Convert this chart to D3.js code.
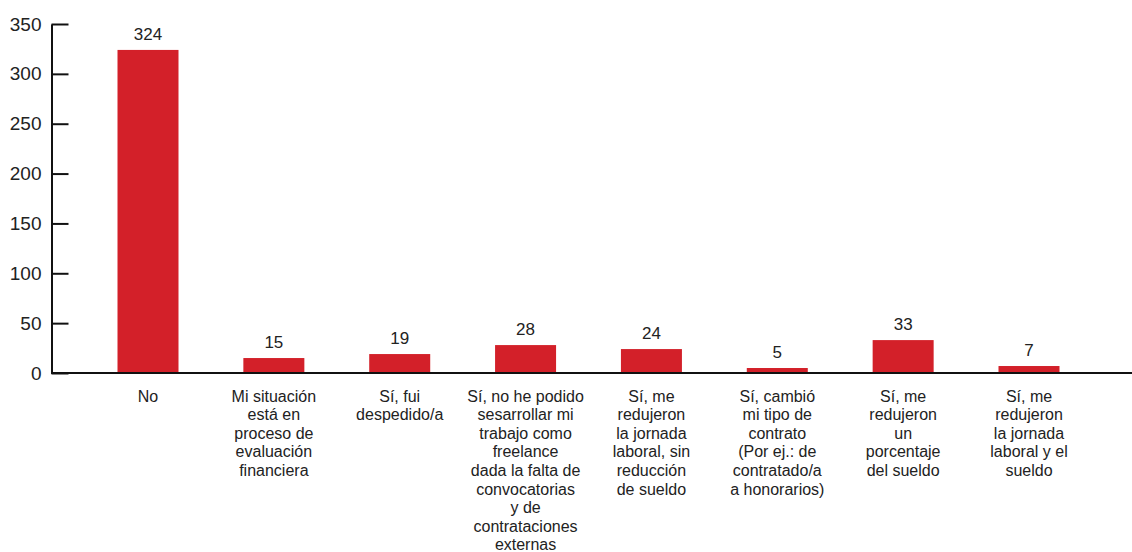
<!DOCTYPE html>
<html>
<head>
  <meta charset="utf8">
  <title>Situación laboral</title>
  <script src="https://d3js.org/d3.v7.min.js"></script>
  <style>
    body { margin: 0; background: #fff; }
    text { font-family: "Liberation Sans", Arial, sans-serif; fill: #222; }
  </style>
</head>
<body>
<script>

  // categories, wrapped as in the original (one string per line)
  var categories = [
    ["No"],
    ["Mi situación", "está en", "proceso de", "evaluación", "financiera"],
    ["Sí, fui", "despedido/a"],
    ["Sí, no he podido", "sesarrollar mi", "trabajo como", "freelance", "dada la falta de", "convocatorias", "y de", "contrataciones", "externas"],
    ["Sí, me", "redujeron", "la jornada", "laboral, sin", "reducción", "de sueldo"],
    ["Sí, cambió", "mi tipo de", "contrato", "(Por ej.: de", "contratado/a", "a honorarios)"],
    ["Sí, me", "redujeron", "un", "porcentaje", "del sueldo"],
    ["Sí, me", "redujeron", "la jornada", "laboral y el", "sueldo"]
  ];
  var values = [324, 15, 19, 28, 24, 5, 33, 7];
  var yTicks = [0, 50, 100, 150, 200, 250, 300, 350];

  var width = 1132, height = 552,
      barWidth = 61;

  var svg = d3.select("body").append("svg")
      .attr("width", width)
      .attr("height", height);

  var keys = categories.map(function(d, i) { return "c" + i; });

  var x = d3.scalePoint()
      .domain(keys)
      .range([148, 1029]);

  var y = d3.scaleLinear()
      .domain([0, 350])
      .range([373, 24]);

  // bars
  svg.append("g")
    .selectAll("rect")
    .data(values)
    .enter().append("rect")
    .attr("x", function(d, i) { return x(keys[i]) - barWidth / 2; })
    .attr("y", function(d) { return y(d); })
    .attr("width", barWidth)
    .attr("height", function(d) { return y(0) - y(d); })
    .attr("fill", "#d32029");

  // value labels
  svg.append("g")
    .selectAll("text")
    .data(values)
    .enter().append("text")
    .attr("x", function(d, i) { return x(keys[i]); })
    .attr("y", function(d) { return y(d) - 10; })
    .attr("text-anchor", "middle")
    .style("font-size", "17px")
    .text(function(d) { return d; });

  // y axis, ticks pointing inward
  var yAxis = svg.append("g")
      .attr("transform", "translate(51.5,0)")
      .call(d3.axisLeft(y).tickValues(yTicks).tickSize(-17).tickSizeOuter(0).tickPadding(10));
  yAxis.select(".domain").attr("stroke", "#111").attr("stroke-width", 2);
  yAxis.selectAll(".tick line").attr("stroke", "#111").attr("stroke-width", 2);
  yAxis.selectAll(".tick text")
    .style("font-size", "19px")
    .style("font-family", "'Liberation Sans', Arial, sans-serif")
    .attr("fill", "#222");

  // baseline
  svg.append("line")
    .attr("x1", 51)
    .attr("x2", width)
    .attr("y1", y(0))
    .attr("y2", y(0))
    .attr("stroke", "#111")
    .attr("stroke-width", 2);

  // category labels
  var labels = svg.append("g")
    .selectAll("text")
    .data(categories)
    .enter().append("text")
    .attr("text-anchor", "middle")
    .style("font-size", "16px");

  labels.selectAll("tspan")
    .data(function(d, i) { return d.map(function(l) { return { line: l, k: keys[i] }; }); })
    .enter().append("tspan")
    .attr("x", function(d) { return x(d.k); })
    .attr("y", function(d, j) { return 401.5 + j * 18.6; })
    .text(function(d) { return d.line; });

</script>
</body>
</html>
